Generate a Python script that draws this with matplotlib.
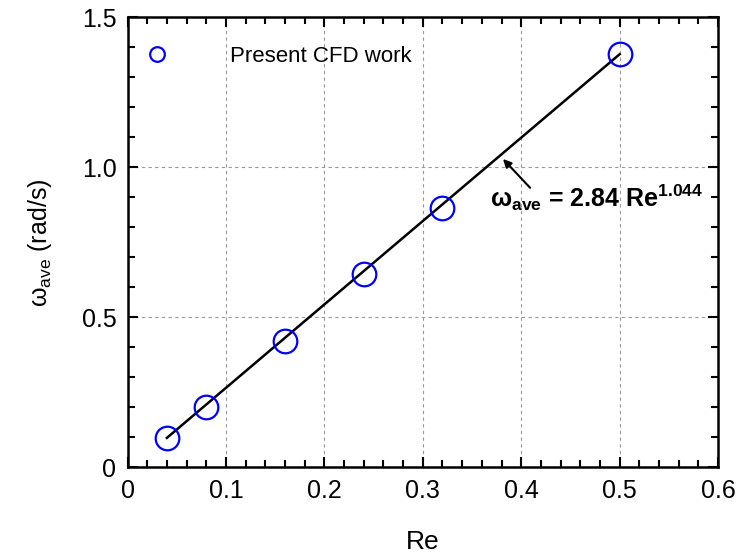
import matplotlib
matplotlib.use("Agg")
import matplotlib.pyplot as plt
from matplotlib.ticker import MultipleLocator

plt.rcParams["font.family"] = ["Liberation Sans", "DejaVu Sans"]
plt.rcParams["mathtext.fontset"] = "custom"
plt.rcParams["mathtext.rm"] = "Liberation Sans"
plt.rcParams["mathtext.bf"] = "Liberation Sans:bold"
plt.rcParams["mathtext.it"] = "Liberation Sans:italic"

# CFD results
re_vals = [0.04, 0.08, 0.16, 0.24, 0.32, 0.50]
omega_vals = [0.098, 0.200, 0.420, 0.645, 0.865, 1.378]

# power-law fit omega = 2.84 Re^1.044 (end points)
fit_re = [0.04, 0.50]
fit_omega = [0.0986, 1.377]

fig = plt.figure(figsize=(7.38, 5.55), dpi=100)
ax = fig.add_axes([0.1728, 0.1577, 0.8002, 0.8111])

ax.plot(fit_re, fit_omega, color="black", lw=1.8, zorder=2)
ax.plot(re_vals, omega_vals, ls="none", marker="o", ms=17, mfc="none",
        mec="#0000ff", mew=1.6, zorder=3, label="Present CFD work")

ax.set_xlim(0, 0.6)
ax.set_ylim(0, 1.5)
ax.xaxis.set_minor_locator(MultipleLocator(0.02))
ax.yaxis.set_minor_locator(MultipleLocator(0.1))
ax.set_xticks([0, 0.1, 0.2, 0.3, 0.4, 0.5, 0.6])
ax.set_xticklabels(["0", "0.1", "0.2", "0.3", "0.4", "0.5", "0.6"])
ax.set_yticks([0, 0.5, 1.0, 1.5])
ax.set_yticklabels(["0", "0.5", "1.0", "1.5"])

ax.tick_params(which="both", direction="in", top=True, right=True,
               width=1.5, labelsize=18, pad=8)
ax.tick_params(which="major", length=7)
ax.tick_params(which="minor", length=5)
for s in ax.spines.values():
    s.set_linewidth(1.8)

ax.grid(True, which="major", ls=(0, (3, 3)), color="#999999", lw=0.8)
ax.set_axisbelow(True)

ax.set_xlabel("Re", fontsize=19, labelpad=20)
ax.set_ylabel("ω$_{\\mathrm{ave}}$ (rad/s)", fontsize=18, labelpad=20)

ax.legend(loc="upper left", bbox_to_anchor=(-0.022, 0.971), frameon=False,
          fontsize=16, markerscale=0.62, handletextpad=2.1,
          handlelength=2.4, borderaxespad=0.3)

ax.text(0.368, 0.868, "ω$_{\\mathbf{ave}}$ = 2.84 Re$^{\\mathbf{1.044}}$",
        fontsize=18, fontweight="bold", va="baseline", ha="left")
ax.annotate("", xy=(0.3815, 1.028), xytext=(0.409, 0.932),
            arrowprops=dict(arrowstyle="-|>", color="black", lw=1.5,
                            shrinkA=0, shrinkB=0, mutation_scale=12))

fig.savefig("out.png", dpi=100)
